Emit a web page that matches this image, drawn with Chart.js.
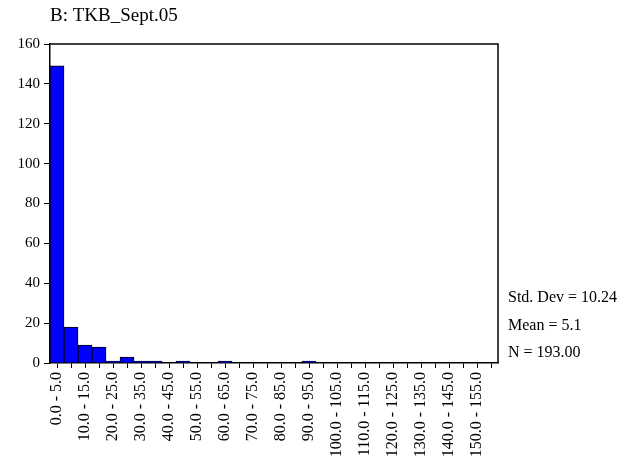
<!DOCTYPE html>
<html>
<head>
<meta charset="utf-8">
<title>B: TKB_Sept.05</title>
<script src="https://cdn.jsdelivr.net/npm/chart.js@4/dist/chart.umd.min.js"></script>
<style>
  html, body { margin: 0; padding: 0; background: #fff; }
  #wrap { position: relative; width: 639px; height: 461px; }
</style>
</head>
<body>
<div id="wrap"><canvas id="hist" width="639" height="461"></canvas></div>
<script>
// Histogram of TKB_Sept.05, 5-unit bins
var binLabels = [
  "0.0 - 5.0", "5.0 - 10.0", "10.0 - 15.0", "15.0 - 20.0",
  "20.0 - 25.0", "25.0 - 30.0", "30.0 - 35.0", "35.0 - 40.0",
  "40.0 - 45.0", "45.0 - 50.0", "50.0 - 55.0", "55.0 - 60.0",
  "60.0 - 65.0", "65.0 - 70.0", "70.0 - 75.0", "75.0 - 80.0",
  "80.0 - 85.0", "85.0 - 90.0", "90.0 - 95.0", "95.0 - 100.0",
  "100.0 - 105.0", "105.0 - 110.0", "110.0 - 115.0", "115.0 - 120.0",
  "120.0 - 125.0", "125.0 - 130.0", "130.0 - 135.0", "135.0 - 140.0",
  "140.0 - 145.0", "145.0 - 150.0", "150.0 - 155.0", "155.0 - 160.0"
];
var binCounts = [
  149, 18, 9, 8, 1, 3, 1, 1,
  0, 1, 0, 0, 1, 0, 0, 0,
  0, 0, 1, 0, 0, 0, 0, 0,
  0, 0, 0, 0, 0, 0, 0, 0
];
var yTicks = [0, 20, 40, 60, 80, 100, 120, 140, 160];
var titleText = "B: TKB_Sept.05";
var statLines = ["Std. Dev = 10.24", "Mean = 5.1", "N = 193.00"];

var SERIF = "'Liberation Serif', 'Times New Roman', Times, serif";

// closes the plot box and writes the title and summary stats
var decorations = {
  id: "decorations",
  afterDraw: function (chart) {
    var ctx = chart.ctx, a = chart.chartArea;
    ctx.save();
    ctx.strokeStyle = "#000";
    ctx.lineWidth = 1.5;
    ctx.beginPath();
    ctx.moveTo(a.left, a.top);
    ctx.lineTo(a.right, a.top);
    ctx.lineTo(a.right, a.bottom);
    ctx.stroke();

    ctx.fillStyle = "#000";
    ctx.textAlign = "left";
    ctx.textBaseline = "alphabetic";
    ctx.font = "19px " + SERIF;
    ctx.fillText(titleText, 50, 21);

    ctx.font = "16px " + SERIF;
    var base = [302, 330, 357];
    statLines.forEach(function (s, i) {
      ctx.fillText(s, a.right + 10, base[i]);
    });
    ctx.restore();
  }
};

new Chart(document.getElementById("hist"), {
  type: "bar",
  data: {
    labels: binLabels,
    datasets: [{
      data: binCounts,
      backgroundColor: "#0000ff",
      borderColor: "#000",
      borderWidth: 1,
      barPercentage: 1,
      categoryPercentage: 1
    }]
  },
  options: {
    responsive: false,
    animation: false,
    layout: { padding: { top: 44, right: 141, left: 0, bottom: 0 } },
    plugins: { legend: { display: false }, tooltip: { enabled: false } },
    scales: {
      x: {
        grid: { offset: false, drawOnChartArea: false, drawTicks: true, tickLength: 5, color: "#000", lineWidth: 1 },
        border: { display: true, color: "#000", width: 1.5 },
        ticks: {
          autoSkip: false,
          minRotation: 90,
          maxRotation: 90,
          padding: 4,
          color: "#000",
          font: { family: SERIF, size: 16 },
          callback: function (v, i) { return i % 2 === 0 ? binLabels[i] : ""; }
        },
        afterFit: function (s) { s.height = 98; }
      },
      y: {
        min: 0,
        max: 160,
        afterBuildTicks: function (s) { s.ticks = yTicks.map(function (v) { return { value: v }; }); },
        grid: { drawOnChartArea: false, drawTicks: true, tickLength: 6, color: "#000", lineWidth: 1 },
        border: { display: true, color: "#000", width: 1.5 },
        ticks: {
          padding: 4,
          color: "#000",
          font: { family: SERIF, size: 15 }
        },
        afterFit: function (s) { s.width = 50; }
      }
    }
  },
  plugins: [decorations]
});
</script>
</body>
</html>
